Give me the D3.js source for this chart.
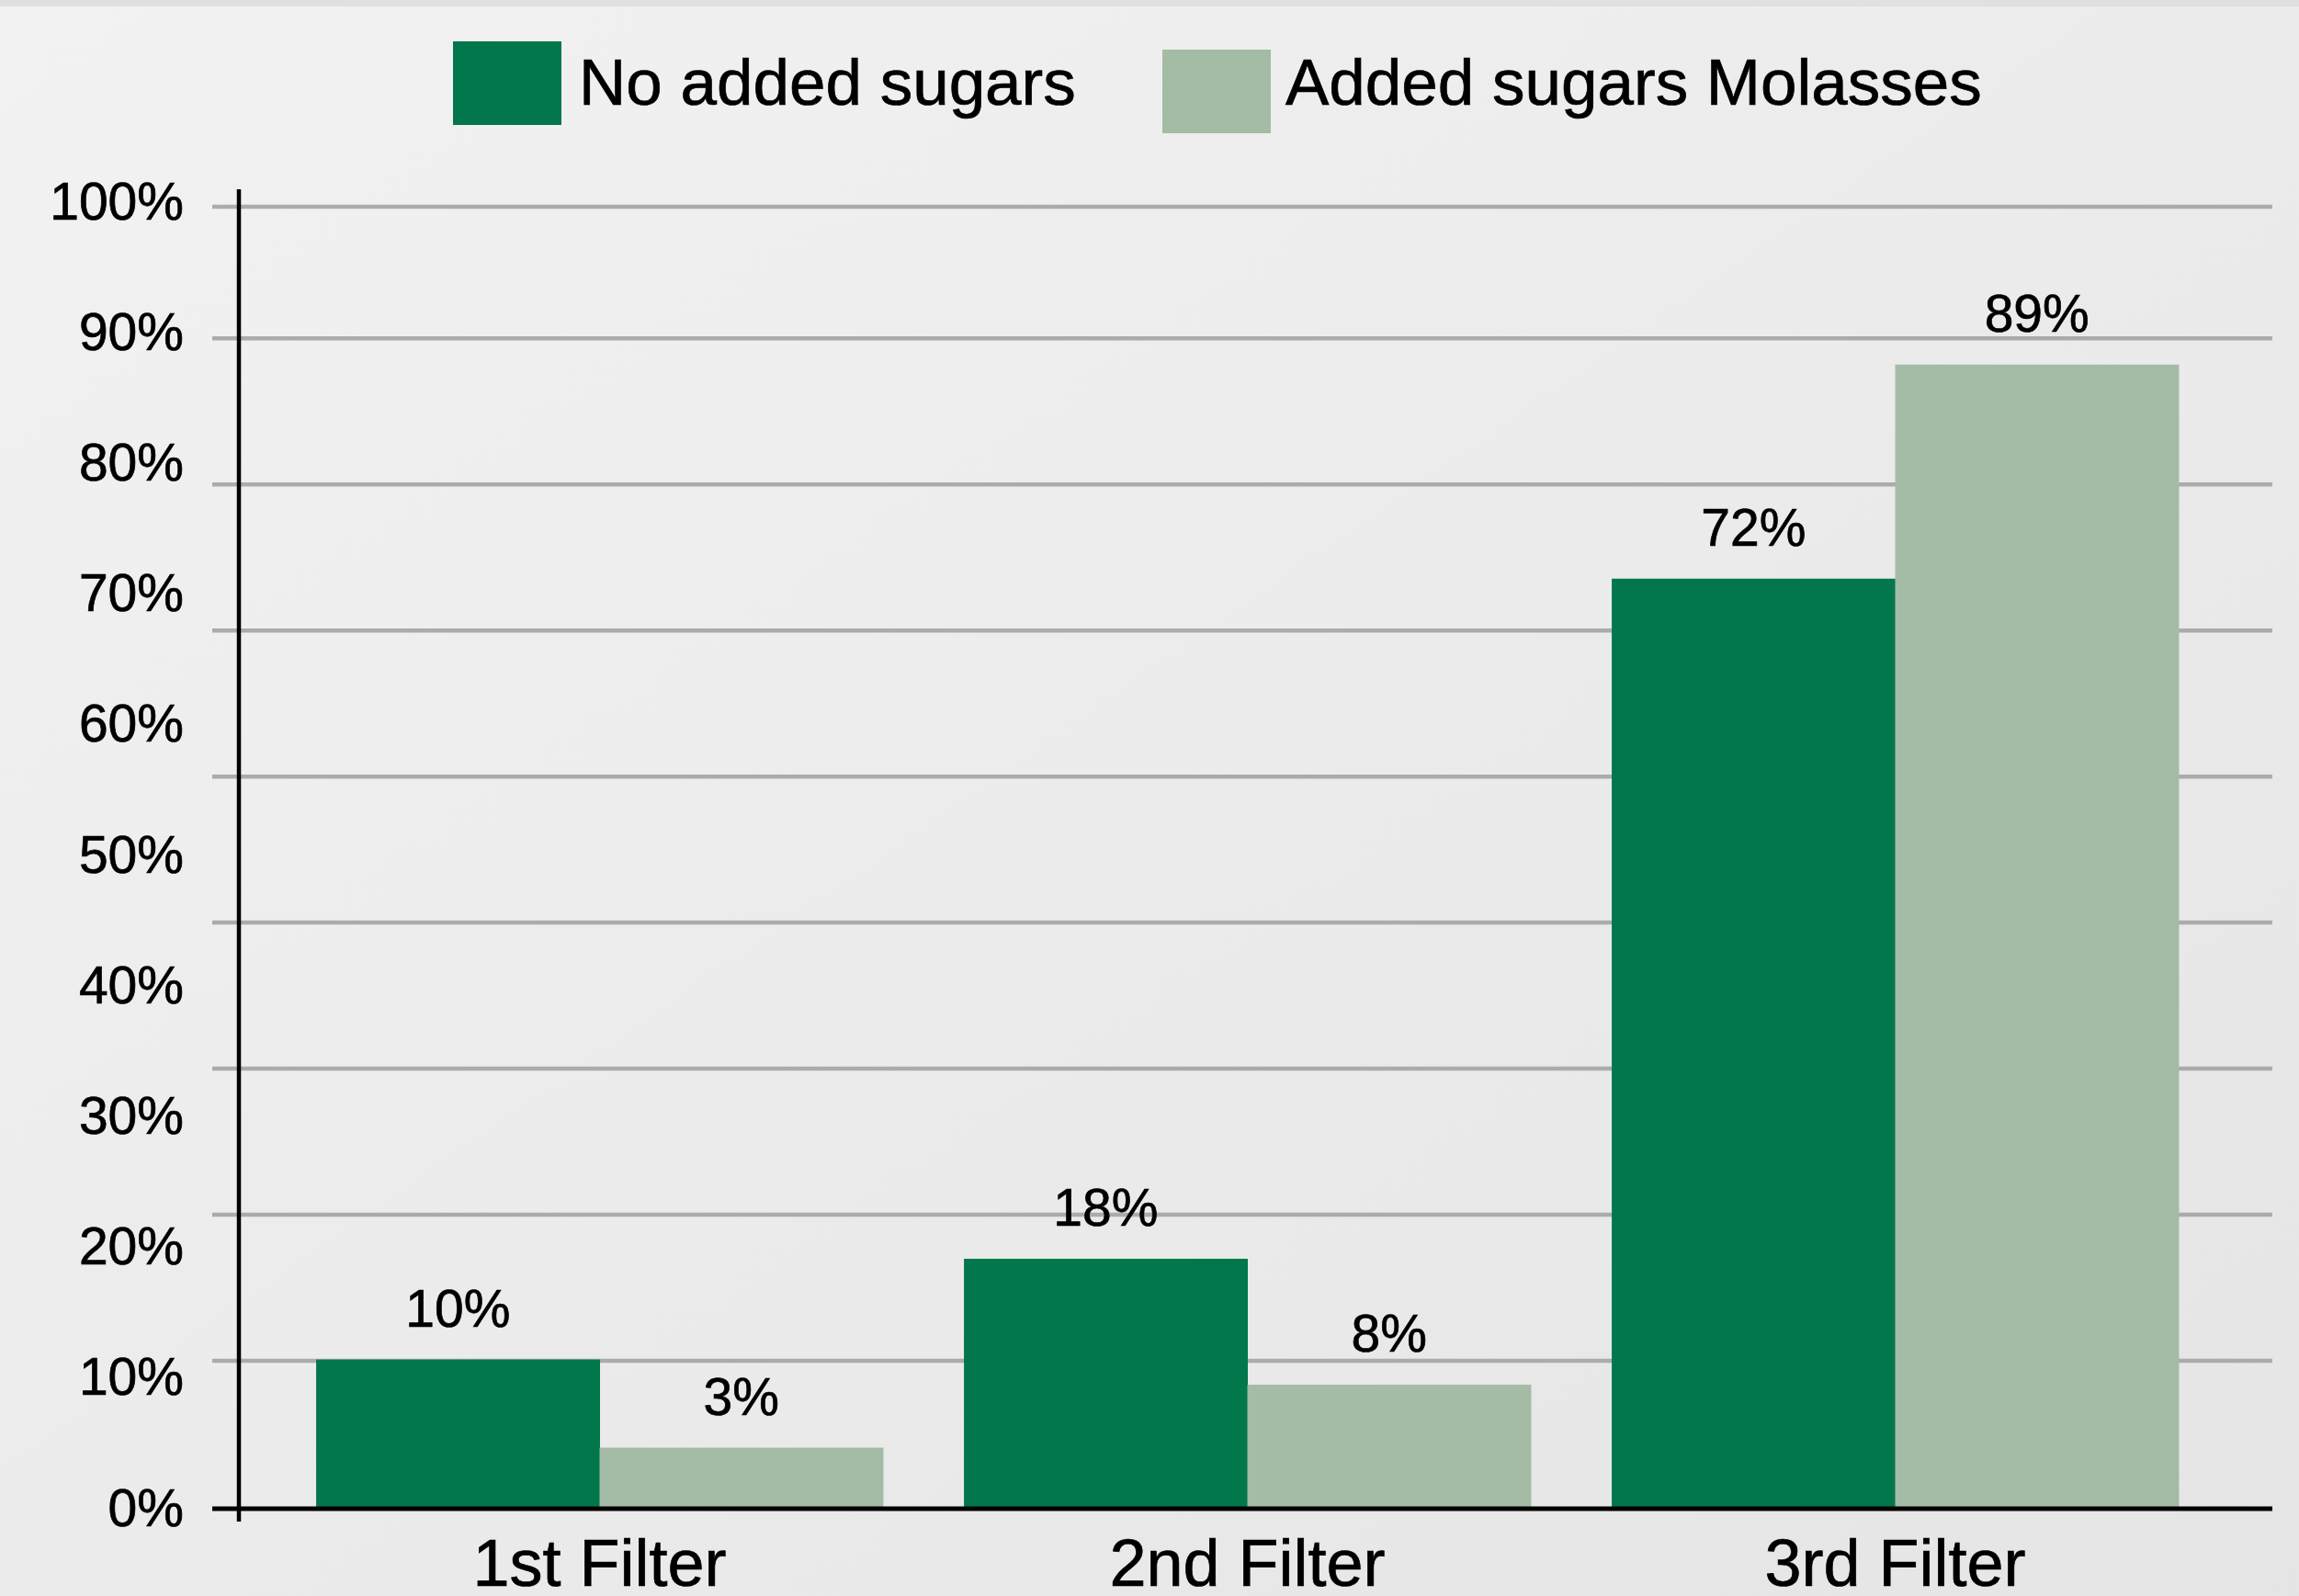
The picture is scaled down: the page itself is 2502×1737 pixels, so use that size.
<!DOCTYPE html>
<html>
<head>
<meta charset="utf-8">
<script src="https://cdn.jsdelivr.net/npm/d3@7"></script>
<style>
  html, body { margin: 0; padding: 0; overflow: hidden; }
  svg { display: block; }
  text { stroke: #000; stroke-width: 0.7px; }
</style>
</head>
<body>
<svg id="chart"></svg>
<script>
'use strict';

// ── data ──────────────────────────────────────────────
const categories = ['1st Filter', '2nd Filter', '3rd Filter'];
const seriesNames = ['No added sugars', 'Added sugars Molasses'];
const noAdded = [10, 18, 72];
const molasses = [3, 8, 89];
const yTicks = [0, 10, 20, 30, 40, 50, 60, 70, 80, 90, 100];
// the reference draws only 10 grid lines against 11 labels
const gridValues = [0, 10, 20, 30, 40, 50, 60, 70, 80, 100];

// ── layout ────────────────────────────────────────────
const W = 2502, H = 1737;
const COLORS = ['#02774c', '#a4bba6'];
const FONT = '"Liberation Sans", Arial, Helvetica, sans-serif';
const axisX = 260;
const gridLeft = 231, gridRight = 2473;

const svg = d3.select('#chart').attr('width', W).attr('height', H);

// background
const defs = svg.append('defs');
const grad = defs.append('linearGradient')
  .attr('id', 'bg').attr('x1', '0').attr('y1', '0').attr('x2', '1').attr('y2', '1');
grad.append('stop').attr('offset', '0').attr('stop-color', '#f2f2f2');
grad.append('stop').attr('offset', '1').attr('stop-color', '#e5e5e5');
svg.append('rect').attr('width', W).attr('height', H).attr('fill', 'url(#bg)');
svg.append('rect').attr('width', W).attr('height', 7).attr('fill', '#e0e0e0');

// scales: axis labels, grid lines and bars are not on one scale in the reference
const y = d3.scaleLinear().domain([0, 100]).range([1640, 218]);
const gridY = d3.scaleLinear().domain([0, 80, 100]).range([y(0), y(90) + 8, y(100) + 7]);
const barY = d3.scaleLinear().domain([-1.7, 100]).range([y(0), 246]);

const x = d3.scaleBand().domain(categories)
  .range([300, 2415]).paddingInner(0.125).paddingOuter(0.0625);
const xSub = d3.scaleBand().domain(seriesNames).range([0, x.bandwidth()]);

// grid lines
svg.append('g').selectAll('line')
  .data(gridValues.filter(d => d > 0))
  .join('line')
  .attr('x1', gridLeft).attr('x2', gridRight)
  .attr('y1', d => gridY(d)).attr('y2', d => gridY(d))
  .attr('stroke', '#ababab').attr('stroke-width', 4.5);

// y tick labels
svg.append('g').selectAll('text')
  .data(yTicks)
  .join('text')
  .attr('x', 200)
  .attr('y', d => y(d))
  .attr('dy', '0.36em')
  .attr('text-anchor', 'end')
  .attr('font-family', FONT)
  .attr('font-size', 57)
  .attr('fill', '#000')
  .text(d => d + '%');

// bars
const rows = categories.map((c, i) => ({
  cat: c,
  vals: [noAdded[i], molasses[i]]
}));

const groups = svg.append('g').selectAll('g')
  .data(rows)
  .join('g')
  .attr('transform', d => `translate(${x(d.cat)},0)`);

groups.selectAll('rect')
  .data(d => d.vals.map((v, j) => ({ key: seriesNames[j], v, j })))
  .join('rect')
  .attr('x', d => xSub(d.key))
  .attr('width', xSub.bandwidth() + 0.5)
  .attr('y', d => barY(d.v))
  .attr('height', d => y(0) - barY(d.v))
  .attr('fill', d => COLORS[d.j]);

groups.selectAll('text')
  .data(d => d.vals.map((v, j) => ({ key: seriesNames[j], v, j })))
  .join('text')
  .attr('x', d => xSub(d.key) + xSub.bandwidth() / 2)
  .attr('y', d => barY(d.v) - 36)
  .attr('text-anchor', 'middle')
  .attr('font-family', FONT)
  .attr('font-size', 57)
  .attr('fill', '#000')
  .text(d => d.v + '%');

// y axis line and baseline
svg.append('line')
  .attr('x1', axisX).attr('x2', axisX)
  .attr('y1', 206).attr('y2', 1656)
  .attr('stroke', '#000').attr('stroke-width', 4.5);
svg.append('line')
  .attr('x1', gridLeft).attr('x2', gridRight)
  .attr('y1', y(0) + 2).attr('y2', y(0) + 2)
  .attr('stroke', '#000').attr('stroke-width', 5);

// x labels
svg.append('g').selectAll('text')
  .data(categories)
  .join('text')
  .attr('x', d => x(d) + x.bandwidth() / 2)
  .attr('y', 1726)
  .attr('text-anchor', 'middle')
  .attr('font-family', FONT)
  .attr('font-size', 72)
  .attr('fill', '#000')
  .text(d => d);

// legend
const legendItems = [
  { name: seriesNames[0], color: COLORS[0], rx: 493, ry: 45, tx: 630 },
  { name: seriesNames[1], color: COLORS[1], rx: 1265, ry: 54, tx: 1399 }
];
const lg = svg.append('g').selectAll('g').data(legendItems).join('g');
lg.append('rect')
  .attr('x', d => d.rx).attr('y', d => d.ry)
  .attr('width', 118).attr('height', 91)
  .attr('fill', d => d.color);
lg.append('text')
  .attr('x', d => d.tx).attr('y', 114)
  .attr('font-family', FONT)
  .attr('font-size', 71)
  .attr('fill', '#000')
  .text(d => d.name);
</script>
</body>
</html>
